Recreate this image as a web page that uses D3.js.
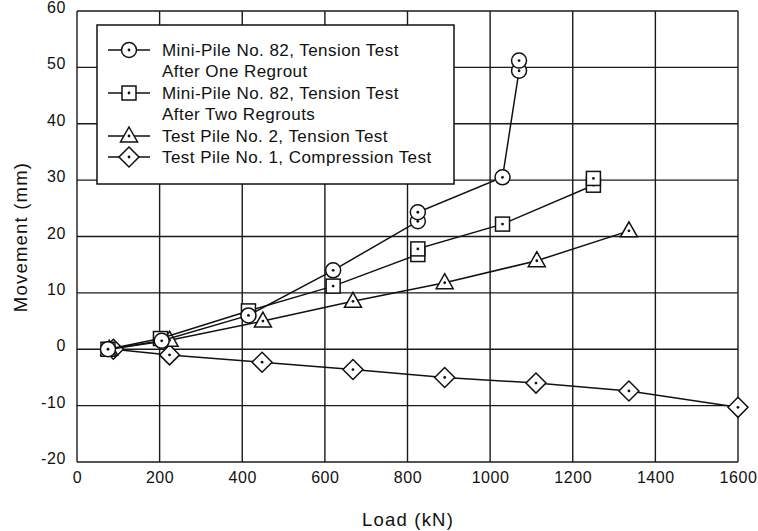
<!DOCTYPE html>
<html>
  <head>
    <meta charset="utf-8">
    <script src="https://cdnjs.cloudflare.com/ajax/libs/d3/7.8.5/d3.min.js"></script>
    <style>
      body { margin: 0; background: #fff; }
      svg { font-family: "Liberation Sans", Arial, sans-serif; }
      .grid line { stroke: #1a1a1a; stroke-width: 1.4; }
      .tick text { font-size: 16px; fill: #111; letter-spacing: 0.6px; }
      path.series { fill: none; stroke: #111; stroke-width: 1.5; }
      .marker { fill: #fff; stroke: #111; stroke-width: 1.5; }
      .dot { fill: #111; }
      .legend text { font-size: 17px; fill: #111; letter-spacing: 0.45px; }
      .title { font-size: 18.5px; fill: #111; letter-spacing: 1.2px; }
    </style>
  </head>
  <body>
    <svg width="758" height="531"></svg>
    <script>
      // tick values
      var xTicks = [0, 200, 400, 600, 800, 1000, 1200, 1400, 1600];
      var yTicks = [-20, -10, 0, 10, 20, 30, 40, 50, 60];

      // Mini-Pile No. 82, one regrout (circles)
      var oneLoad = [75, 205, 415, 620, 825, 825, 1030, 1070, 1070];
      var oneMove = [0, 1.5, 6.0, 14.0, 22.7, 24.3, 30.5, 49.4, 51.2];

      // Mini-Pile No. 82, two regrouts (squares)
      var twoLoad = [75, 202, 415, 620, 825, 825, 1030, 1250, 1250];
      var twoMove = [0, 1.9, 6.8, 11.2, 16.8, 17.8, 22.2, 29.1, 30.3];

      // Test Pile No. 2, tension (triangles)
      var tenLoad = [78, 224, 450, 668, 890, 1113, 1336];
      var tenMove = [0, 1.6, 5.0, 8.5, 11.8, 15.7, 21.0];

      // Test Pile No. 1, compression (diamonds)
      var comLoad = [88, 224, 448, 668, 890, 1111, 1336, 1600];
      var comMove = [0, -1.0, -2.3, -3.6, -5.0, -6.0, -7.4, -10.3];

      var legendLabels = [
        ["Mini-Pile No. 82, Tension Test", "After One Regrout"],
        ["Mini-Pile No. 82, Tension Test", "After Two Regrouts"],
        ["Test Pile No. 2, Tension Test"],
        ["Test Pile No. 1, Compression Test"]
      ];

      var series = [
        { x: oneLoad, y: oneMove, shape: "circle" },
        { x: twoLoad, y: twoMove, shape: "square" },
        { x: tenLoad, y: tenMove, shape: "triangle" },
        { x: comLoad, y: comMove, shape: "diamond" }
      ];

      var svg = d3.select("svg");
      var x = d3.scaleLinear().domain([0, 1600]).range([77, 738]);
      var y = d3.scaleLinear().domain([-20, 60]).range([462, 11]);

      // grid (outer lines make the frame)
      var grid = svg.append("g").attr("class", "grid");
      grid.selectAll("line.v").data(xTicks).enter().append("line")
        .attr("x1", d => x(d)).attr("x2", d => x(d))
        .attr("y1", y(-20)).attr("y2", y(60));
      grid.selectAll("line.h").data(yTicks).enter().append("line")
        .attr("y1", d => y(d)).attr("y2", d => y(d))
        .attr("x1", x(0)).attr("x2", x(1600));

      // plain hyphen minus and no thousands separators, like the original
      var fmt = d => String(d);

      var xAxis = svg.append("g")
        .attr("transform", "translate(0," + (y(-20) + 3) + ")")
        .call(d3.axisBottom(x).tickValues(xTicks).tickFormat(fmt).tickSize(0).tickPadding(7));
      xAxis.select(".domain").remove();

      var yAxis = svg.append("g")
        .attr("transform", "translate(" + (x(0) - 8) + ",0)")
        .call(d3.axisLeft(y).tickValues(yTicks).tickFormat(fmt).tickSize(0).tickPadding(3));
      yAxis.select(".domain").remove();
      yAxis.selectAll("text").attr("dy", "0.1em");

      svg.selectAll(".tick text").style("font-family", "'Liberation Sans', Arial, sans-serif");

      svg.append("text").attr("class", "title")
        .attr("x", 408).attr("y", 526)
        .attr("text-anchor", "middle")
        .text("Load (kN)");

      svg.append("text").attr("class", "title")
        .attr("transform", "translate(27,237) rotate(-90)")
        .attr("text-anchor", "middle")
        .text("Movement (mm)");

      function drawMarker(g, shape, cx, cy) {
        if (shape === "circle") {
          g.append("circle").attr("class", "marker")
            .attr("cx", cx).attr("cy", cy).attr("r", 7.5);
        } else if (shape === "square") {
          g.append("rect").attr("class", "marker")
            .attr("x", cx - 7).attr("y", cy - 7).attr("width", 14).attr("height", 14);
        } else if (shape === "triangle") {
          g.append("path").attr("class", "marker")
            .attr("d", "M" + cx + "," + (cy - 9) + "L" + (cx + 8.5) + "," + (cy + 6) +
              "L" + (cx - 8.5) + "," + (cy + 6) + "Z");
        } else {
          g.append("path").attr("class", "marker")
            .attr("d", "M" + cx + "," + (cy - 10) + "L" + (cx + 10) + "," + cy +
              "L" + cx + "," + (cy + 10) + "L" + (cx - 10) + "," + cy + "Z");
        }
        g.append("circle").attr("class", "dot").attr("cx", cx).attr("cy", cy).attr("r", 1.4);
      }

      var line = d3.line().x(d => x(d[0])).y(d => y(d[1]));

      // draw bottom series first
      series.slice().reverse().forEach(s => {
        var pts = s.x.map((v, i) => [v, s.y[i]]);
        var g = svg.append("g");
        g.append("path").attr("class", "series").attr("d", line(pts));
        pts.forEach(p => drawMarker(g, s.shape, x(p[0]), y(p[1])));
      });

      // legend
      var lg = svg.append("g").attr("class", "legend");
      lg.append("rect")
        .attr("x", 97).attr("y", 25).attr("width", 357).attr("height", 159)
        .attr("fill", "#fff").attr("stroke", "#111").attr("stroke-width", 1.5);

      var rowY = [50, 93, 136, 157];
      series.forEach((s, i) => {
        var cy = rowY[i];
        lg.append("line").attr("x1", 108).attr("x2", 150)
          .attr("y1", cy).attr("y2", cy)
          .attr("stroke", "#111").attr("stroke-width", 1.5);
        drawMarker(lg, s.shape, 129, cy);
        legendLabels[i].forEach((t, j) => {
          lg.append("text").attr("x", 162).attr("y", cy + 6 + j * 21).text(t);
        });
      });
    </script>
  </body>
</html>
